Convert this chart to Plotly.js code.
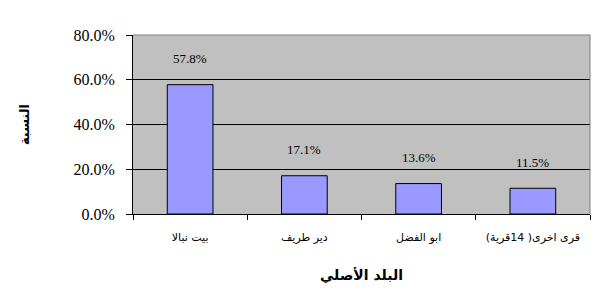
<!DOCTYPE html>
<html>
<head>
<meta charset="utf-8">
<script src="https://cdn.plot.ly/plotly-3.0.1.min.js"></script>
<style>html,body{margin:0;padding:0;background:#fff;}#chart{width:597px;height:301px;}</style>
</head>
<body>
<div id="chart"></div>
<script>
const categories = ["بيت نبالا", "دير طريف", "ابو الفضل", "قرى اخرى( 14قرية)"];
const values = [57.8, 17.1, 13.6, 11.5];
const valueLabels = ["57.8%", "17.1%", "13.6%", "11.5%"];
const yTickVals = [0, 20, 40, 60, 80];
const yTickText = ["0.0%", "20.0%", "40.0%", "60.0%", "80.0%"];

const trace = {
  type: "bar",
  x: categories,
  y: values,
  marker: {color: "#9999FF", line: {color: "#000000", width: 1}},
  width: 0.4,
  hoverinfo: "none"
};

const annotations = categories.map((c, i) => ({
  x: c, y: values[i], xref: "x", yref: "y",
  text: valueLabels[i], showarrow: false, yshift: 26,
  font: {family: "Liberation Serif, Times New Roman, serif", size: 13, color: "#000"}
}));

const layout = {
  width: 597, height: 301,
  margin: {l: 133, r: 7, t: 35, b: 87},
  paper_bgcolor: "#ffffff",
  plot_bgcolor: "#C0C0C0",
  showlegend: false,
  bargap: 0.6,
  xaxis: {
    type: "category",
    tickson: "boundaries",
    ticks: "outside", ticklen: 5, tickcolor: "#000", tickwidth: 1,
    ticklabelstandoff: 13,
    showline: true, linecolor: "#000", linewidth: 1,
    showgrid: false,
    tickfont: {family: "DejaVu Sans, sans-serif", size: 11, color: "#000"},
    title: {text: "<b>البلد الأصلي</b>", font: {family: "DejaVu Sans, sans-serif", size: 14, color: "#000"}, standoff: 26}
  },
  yaxis: {
    range: [0, 80],
    tickvals: yTickVals, ticktext: yTickText,
    ticks: "outside", ticklen: 6, tickcolor: "#000", tickwidth: 1,
    ticklabelstandoff: 8,
    showline: true, linecolor: "#000", linewidth: 1,
    showgrid: true, gridcolor: "#000", gridwidth: 1,
    zeroline: false,
    tickfont: {family: "Liberation Serif, Times New Roman, serif", size: 16, color: "#000"},
    title: {text: "<b>النسبة</b>", font: {family: "DejaVu Sans, sans-serif", size: 13, color: "#000"}, standoff: 40}
  },
  annotations: annotations,
  shapes: [
    {type: "line", xref: "paper", yref: "paper", x0: 0, x1: 1, y0: 1, y1: 1, line: {color: "#808080", width: 1}},
    {type: "line", xref: "paper", yref: "paper", x0: 1, x1: 1, y0: 0, y1: 1, line: {color: "#808080", width: 1}}
  ]
};

Plotly.newPlot("chart", [trace], layout, {staticPlot: true, displayModeBar: false});
</script>
</body>
</html>
